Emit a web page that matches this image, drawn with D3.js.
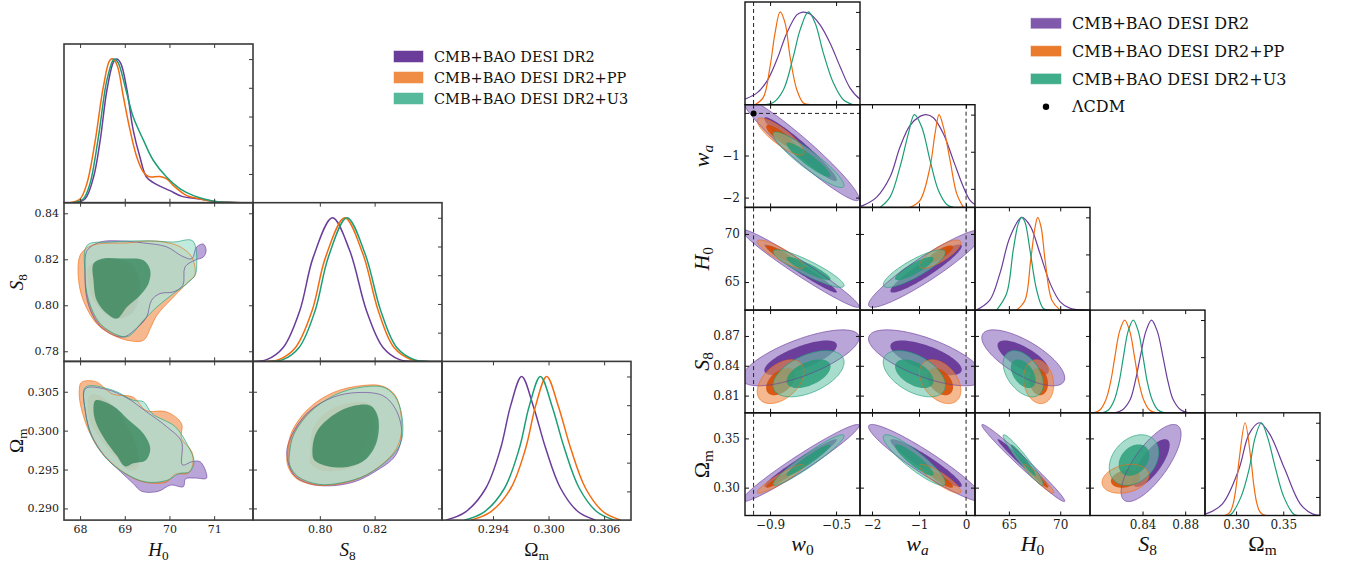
<!DOCTYPE html>
<html>
<head>
<meta charset="utf-8">
<script src="https://cdn.jsdelivr.net/npm/d3@7"></script>
<style>
  body { margin: 0; background: #fff; }
  svg { display: block; }
</style>
</head>
<body>
<svg id="plane" width="1346" height="563"></svg>
<script>
(function() {

  // Dataset names.
  var names = ["CMB+BAO DESI DR2", "CMB+BAO DESI DR2+PP", "CMB+BAO DESI DR2+U3"];

  // ---------- Left triangle (H0, S8, Om) ----------

  // Axis ranges and ticks.
  var leftRanges = [[67.64, 71.87], [0.7756, 0.8446], [0.2885, 0.3089]];
  var leftXTicks = [[68, 69, 70, 71], [0.80, 0.82], [0.294, 0.300, 0.306]];
  var leftYTicks = [null, [0.78, 0.80, 0.82, 0.84], [0.290, 0.295, 0.300, 0.305]];
  var leftFormats = [".0f", ".2f", ".3f"];

  // 1D marginals, [value, normalised density], order DR2, PP, U3.
  var leftH0Curves = [
    [[67.89,0],[68.11,0.026],[68.30,0.177],[68.45,0.434],[68.60,0.783],[68.75,0.981],[68.82,1.0],[68.91,0.97],[69.05,0.783],[69.19,0.503],[69.34,0.317],[69.49,0.177],[69.72,0.126],[70.01,0.084],[70.28,0.044],[70.69,0.026],[70.98,0.009],[71.43,0.002],[71.88,0]],
    [[67.78,0],[68.0,0.026],[68.15,0.131],[68.34,0.434],[68.52,0.806],[68.67,0.993],[68.75,1.0],[68.84,0.946],[68.97,0.736],[69.12,0.503],[69.27,0.317],[69.42,0.212],[69.53,0.182],[69.79,0.182],[69.94,0.166],[70.09,0.119],[70.39,0.049],[70.69,0.026],[71.06,0.007],[71.88,0]],
    [[67.85,0],[68.07,0.026],[68.22,0.131],[68.41,0.457],[68.60,0.853],[68.75,0.998],[68.78,1.0],[68.86,0.97],[69.01,0.806],[69.19,0.596],[69.42,0.434],[69.64,0.294],[69.94,0.177],[70.24,0.096],[70.54,0.049],[70.84,0.021],[71.13,0.005],[71.88,0]]
  ];
  var leftS8Curves = [
    [[0.7760,0],[0.7806,0.012],[0.7867,0.099],[0.7927,0.355],[0.7976,0.726],[0.8046,1],[0.8109,0.772],[0.8170,0.355],[0.8230,0.099],[0.8291,0.012],[0.8340,0]],
    [[0.7800,0],[0.7850,0.012],[0.7912,0.099],[0.7972,0.355],[0.8021,0.726],[0.8091,1],[0.8157,0.75],[0.8213,0.355],[0.8270,0.099],[0.8335,0.012],[0.8390,0]],
    [[0.7815,0],[0.7865,0.012],[0.7925,0.099],[0.7983,0.355],[0.8031,0.726],[0.8099,1],[0.8165,0.75],[0.8222,0.355],[0.8280,0.099],[0.8345,0.012],[0.8400,0]]
  ];
  var leftOmCurves = [
    [[0.2889,0],[0.29105,0.058],[0.29321,0.22],[0.29483,0.5],[0.29591,0.797],[0.2971,1],[0.29834,0.797],[0.29969,0.5],[0.30131,0.22],[0.3032,0.058],[0.30508,0]],
    [[0.2916,0],[0.29375,0.058],[0.29591,0.22],[0.29753,0.5],[0.29861,0.797],[0.2998,1],[0.30104,0.797],[0.30239,0.5],[0.30401,0.22],[0.3059,0.058],[0.30778,0]],
    [[0.29092,0],[0.29307,0.058],[0.29523,0.22],[0.29685,0.5],[0.29793,0.797],[0.29912,1],[0.30036,0.797],[0.30171,0.5],[0.30333,0.22],[0.30522,0.058],[0.3071,0]]
  ];

  // 2D contours (95% outer, 68% inner), [x, y] in data units.
  var leftH0S8Outer = [
    [[68.16,0.8239],[68.45,0.8275],[68.90,0.8280],[69.42,0.8271],[69.94,0.8254],[70.28,0.8214],[70.50,0.8203],[70.61,0.8254],[70.76,0.8266],[70.82,0.8239],[70.76,0.8210],[70.57,0.8196],[70.35,0.8167],[70.30,0.8087],[70.09,0.8058],[69.79,0.8051],[69.60,0.8022],[69.49,0.7949],[69.26,0.7899],[68.97,0.7862],[68.67,0.7877],[68.37,0.7927],[68.16,0.8022],[68.11,0.8152]],
    [[68.0,0.8217],[68.19,0.8254],[68.45,0.8268],[69.05,0.8271],[69.57,0.8280],[69.98,0.8271],[70.24,0.8254],[70.50,0.8210],[70.57,0.8130],[70.46,0.8109],[70.09,0.8036],[69.72,0.7957],[69.57,0.7899],[69.42,0.7848],[69.05,0.7848],[68.67,0.7877],[68.37,0.7920],[68.07,0.8022],[67.96,0.8123]],
    [[68.16,0.8261],[68.67,0.8275],[69.57,0.8280],[70.09,0.8275],[70.52,0.8280],[70.61,0.8167],[70.57,0.8130],[70.39,0.8094],[70.09,0.8051],[69.72,0.7993],[69.42,0.7935],[69.08,0.7865],[68.86,0.7869],[68.45,0.7920],[68.19,0.8022],[68.11,0.8138]]
  ];
  var leftH0S8Inner = [
    [[68.31,0.8174],[68.75,0.8203],[69.19,0.8174],[69.34,0.8109],[69.31,0.8022],[69.16,0.7964],[68.86,0.7942],[68.60,0.7978],[68.34,0.8051],[68.30,0.8123]],
    [[68.19,0.8167],[68.45,0.8196],[68.82,0.8196],[69.16,0.8167],[69.31,0.8094],[69.19,0.7993],[68.90,0.7942],[68.60,0.7957],[68.30,0.8022],[68.19,0.8094]],
    [[68.30,0.8181],[68.52,0.8203],[68.90,0.8203],[69.42,0.8196],[69.57,0.8152],[69.53,0.8094],[69.34,0.8043],[69.05,0.7993],[68.82,0.7942],[68.60,0.7964],[68.37,0.8022],[68.30,0.8109]]
  ];
  var leftH0OmOuter = [
    [[68.12,0.3054],[68.59,0.3053],[69.05,0.3042],[69.47,0.3025],[69.94,0.3005],[70.27,0.2986],[70.29,0.2956],[70.50,0.2960],[70.69,0.2960],[70.83,0.2939],[70.59,0.2939],[70.36,0.2938],[70.31,0.2928],[70.03,0.2930],[69.75,0.2922],[69.38,0.2922],[69.19,0.2932],[68.91,0.2947],[68.54,0.2968],[68.26,0.2994],[68.12,0.3024]],
    [[68.03,0.3062],[68.35,0.3063],[68.73,0.3047],[69.19,0.3043],[69.47,0.3026],[69.94,0.3024],[70.27,0.3009],[70.27,0.2990],[70.50,0.2973],[70.52,0.2956],[70.41,0.2945],[70.13,0.2944],[69.94,0.2934],[69.42,0.2934],[69.01,0.2945],[68.54,0.2968],[68.21,0.2998],[68.03,0.3028],[67.98,0.3049]],
    [[68.12,0.3056],[68.73,0.3052],[69.19,0.3039],[69.42,0.3037],[69.61,0.3022],[70.13,0.3005],[70.41,0.2981],[70.55,0.2960],[70.45,0.2947],[70.22,0.2945],[69.94,0.2936],[69.47,0.2934],[69.01,0.2945],[68.59,0.2964],[68.26,0.2992],[68.12,0.3024]]
  ];
  var leftH0OmInner = [
    [[68.33,0.3039],[68.63,0.3037],[68.91,0.3020],[69.10,0.2998],[69.28,0.2977],[69.28,0.2960],[69.05,0.2951],[68.91,0.2960],[68.73,0.2977],[68.45,0.2998],[68.30,0.3020]],
    [[68.21,0.3045],[68.45,0.3045],[69.01,0.3011],[69.28,0.2977],[69.28,0.2951],[69.10,0.2949],[68.82,0.2964],[68.45,0.2990],[68.21,0.3015]],
    [[68.35,0.3039],[68.73,0.3032],[69.10,0.3013],[69.42,0.2996],[69.57,0.2977],[69.47,0.2962],[69.19,0.2958],[69.01,0.2954],[68.82,0.2968],[68.54,0.2990],[68.35,0.3011],[68.30,0.3028]]
  ];
  var leftS8OmOuter = [
    [[0.7879,0.2970],[0.7897,0.2994],[0.7958,0.3024],[0.8049,0.3043],[0.8139,0.3049],[0.8230,0.3045],[0.8276,0.3028],[0.8299,0.2998],[0.8276,0.2968],[0.8200,0.2947],[0.8124,0.2934],[0.8033,0.2929],[0.7958,0.2932],[0.7905,0.2943]],
    [[0.7882,0.2973],[0.7897,0.2998],[0.7958,0.3028],[0.8049,0.3049],[0.8155,0.3058],[0.8230,0.3057],[0.8276,0.3045],[0.8299,0.3011],[0.8291,0.2986],[0.8261,0.2968],[0.8170,0.2943],[0.8079,0.2932],[0.7988,0.2930],[0.7912,0.2939],[0.7882,0.2956]],
    [[0.7890,0.2973],[0.7905,0.2995],[0.7965,0.3024],[0.8056,0.3046],[0.8155,0.3056],[0.8238,0.3055],[0.8283,0.3039],[0.8303,0.3007],[0.8294,0.2983],[0.8253,0.2964],[0.8170,0.2943],[0.8079,0.2933],[0.7996,0.2931],[0.7920,0.2941],[0.7890,0.2956]]
  ];
  var leftS8OmInner = [
    [[0.7973,0.2968],[0.7980,0.2994],[0.8033,0.3015],[0.8094,0.3028],[0.8155,0.3032],[0.8185,0.3022],[0.8177,0.2990],[0.8139,0.2968],[0.8079,0.2956],[0.8010,0.2956]],
    [[0.7965,0.2968],[0.7976,0.3003],[0.8033,0.3026],[0.8117,0.3036],[0.8185,0.3034],[0.8208,0.3018],[0.8200,0.2986],[0.8155,0.2960],[0.8079,0.2949],[0.8003,0.2949],[0.7965,0.2958]],
    [[0.7973,0.2973],[0.7988,0.2998],[0.8049,0.3020],[0.8124,0.3032],[0.8185,0.3032],[0.8212,0.3018],[0.8208,0.2986],[0.8170,0.2964],[0.8109,0.2954],[0.8033,0.2954],[0.7980,0.2962]]
  ];

  // ---------- Right triangle (w0, wa, H0, S8, Om) ----------

  var rightXRanges = [[-1.052, -0.355], [-2.255, 0.19], [61.7, 72.9], [0.7907, 0.8986], [0.267, 0.389]];
  var rightYRanges = [null, [-2.233, 0.207], [62.08, 72.76], [0.7927, 0.896], [0.2717, 0.376]];
  var rightXTicks = [[-0.9, -0.5], [-2, -1, 0], [65, 70], [0.84, 0.88], [0.30, 0.35]];
  var rightYTicks = [null, [-2, -1], [65, 70], [0.81, 0.84, 0.87], [0.30, 0.35]];
  var rightFormats = [".1f", ".0f", ".0f", ".2f", ".2f"];

  // LCDM reference values for w0 and wa.
  var lcdm = [-1, 0];

  // Posterior summaries: means and standard deviations (w0, wa, H0, S8, Om).
  var meansDR2 = [-0.715, -0.85, 66.4, 0.848, 0.325];
  var meansPP  = [-0.836, -0.55, 67.9, 0.824, 0.309];
  var meansU3  = [-0.667, -1.10, 66.4, 0.832, 0.328];
  var sigmasDR2 = [0.145, 0.50, 1.65, 0.0115, 0.016];
  var sigmasPP  = [0.058, 0.18, 0.60, 0.0090, 0.006];
  var sigmasU3  = [0.088, 0.27, 0.80, 0.0095, 0.0105];

  // Correlation matrices.
  var corrDR2 = [
    [1, -0.96, -0.975, 0.72, 0.97],
    [-0.96, 1, 0.93, -0.68, -0.94],
    [-0.975, 0.93, 1, -0.72, -0.985],
    [0.72, -0.68, -0.72, 1, 0.75],
    [0.97, -0.94, -0.985, 0.75, 1]
  ];
  var corrPP = [
    [1, -0.85, -0.88, 0.45, 0.93],
    [-0.85, 1, 0.80, -0.40, -0.88],
    [-0.88, 0.80, 1, -0.15, -0.95],
    [0.45, -0.40, -0.15, 1, 0.25],
    [0.93, -0.88, -0.95, 0.25, 1]
  ];
  var corrU3 = [
    [1, -0.92, -0.90, 0.50, 0.95],
    [-0.92, 1, 0.85, -0.50, -0.90],
    [-0.90, 0.85, 1, -0.45, -0.96],
    [0.50, -0.50, -0.45, 1, 0.30],
    [0.95, -0.90, -0.96, 0.30, 1]
  ];

  // 1D marginals read from the right triangle.
  var rightW0Curves = [
    [[-1.10,0.03],[-1.052,0.061],[-0.981,0.125],[-0.920,0.251],[-0.859,0.484],[-0.799,0.771],[-0.738,0.968],[-0.708,0.996],[-0.658,0.978],[-0.597,0.86],[-0.536,0.663],[-0.476,0.412],[-0.415,0.179],[-0.355,0.061],[-0.30,0.02]],
    [[-0.991,0],[-0.941,0.079],[-0.900,0.412],[-0.870,0.771],[-0.839,1.0],[-0.809,0.88],[-0.779,0.52],[-0.738,0.161],[-0.698,0.018],[-0.658,0]],
    [[-0.961,0],[-0.880,0.024],[-0.819,0.161],[-0.759,0.52],[-0.718,0.807],[-0.668,1.0],[-0.627,0.88],[-0.577,0.556],[-0.516,0.233],[-0.456,0.054],[-0.395,0]]
  ];
  var rightWaCurves = [
    [[-2.30,0.005],[-2.185,0.022],[-1.90,0.111],[-1.617,0.327],[-1.404,0.651],[-1.191,0.884],[-0.979,0.981],[-0.851,1.0],[-0.695,0.967],[-0.482,0.795],[-0.27,0.507],[-0.057,0.22],[0.085,0.076],[0.19,0.032],[0.30,0.01]],
    [[-1.191,0],[-0.979,0.076],[-0.766,0.436],[-0.66,0.795],[-0.574,1.0],[-0.482,0.867],[-0.34,0.507],[-0.199,0.148],[-0.057,0]],
    [[-1.83,0],[-1.617,0.111],[-1.404,0.436],[-1.227,0.795],[-1.099,1.0],[-0.943,0.867],[-0.766,0.507],[-0.589,0.184],[-0.411,0.032],[-0.27,0]]
  ];
  var rightH0Curves = [
    [[61.83,0],[63.14,0.107],[64.12,0.393],[65.10,0.786],[66.25,1.0],[67.06,0.911],[68.04,0.607],[69.02,0.286],[70.0,0.089],[70.98,0.018],[72.6,0]],
    [[65.75,0],[66.57,0.107],[67.12,0.536],[67.55,0.893],[67.81,1.0],[68.14,0.893],[68.53,0.536],[69.19,0.107],[70.0,0]],
    [[63.8,0],[64.78,0.179],[65.42,0.643],[65.91,0.929],[66.25,1.0],[66.57,0.946],[67.06,0.643],[67.71,0.214],[68.36,0.018],[69.02,0]]
  ];
  var rightS8Curves = [
    [[0.814,0],[0.821,0.03],[0.8283,0.14],[0.833,0.33],[0.8378,0.6],[0.8432,0.88],[0.8484,1],[0.8538,0.88],[0.8592,0.6],[0.864,0.33],[0.8688,0.14],[0.876,0.03],[0.884,0]],
    [[0.794,0],[0.800,0.03],[0.8056,0.14],[0.810,0.33],[0.814,0.6],[0.8185,0.88],[0.8233,1],[0.828,0.88],[0.8325,0.6],[0.8365,0.33],[0.841,0.14],[0.8465,0.03],[0.853,0]],
    [[0.802,0],[0.808,0.03],[0.8136,0.14],[0.818,0.33],[0.822,0.6],[0.8265,0.88],[0.8313,1],[0.836,0.88],[0.8405,0.6],[0.8445,0.33],[0.849,0.14],[0.8545,0.03],[0.861,0]]
  ];
  var rightOmCurves = [
    [[0.255,0],[0.268,0.017],[0.2855,0.126],[0.303,0.5],[0.3138,0.88],[0.3247,1],[0.3355,0.88],[0.3516,0.5],[0.368,0.126],[0.381,0.017],[0.394,0]],
    [[0.287,0],[0.2905,0.01],[0.294,0.044],[0.2971,0.135],[0.3002,0.325],[0.3033,0.607],[0.3095,1],[0.3157,0.607],[0.3188,0.325],[0.3219,0.135],[0.325,0.044],[0.3285,0.01],[0.332,0]],
    [[0.290,0],[0.2943,0.01],[0.3051,0.198],[0.3138,0.5],[0.3203,0.845],[0.3268,1],[0.3333,0.845],[0.342,0.5],[0.3507,0.198],[0.3616,0.01],[0.366,0]]
  ];

  // ---------- Styles ----------
  var lineColours = ["#6a3d9a", "#f26b0f", "#1b9e77"];
  var rightStyle = {
    outerFill: ["#8a69be", "#f08a44", "#6ec5aa"], outerAlpha: [0.6, 0.6, 0.6],
    innerFill: ["#5c2b8f", "#d54900", "#239b75"], innerAlpha: [0.85, 0.85, 0.8]
  };
  var leftStyle = {
    outerFill: ["#8a69be", "#f08a44", "#b1e5d6"], outerAlpha: [0.6, 0.6, 0.8],
    innerFill: ["#5c2b8f", "#d54900", "#0a6e3c"], innerAlpha: [0.85, 0.5, 0.6]
  };
  var leftLegendColours = ["#6b3d9a", "#ef8c46", "#56b99b"];
  var rightLegendColours = ["#8159ac", "#ea7a2c", "#40ad8b"];
  var tickFont = "DejaVu Serif";
  var labelFont = "Liberation Serif";

  var svg = d3.select("#plane");

  // Outline and fill of the contours of one 2D panel.
  function drawContours(cell, outers, inners, x, y, curve, st) {
    var line = d3.line().x(function(d) { return x(d[0]); }).y(function(d) { return y(d[1]); }).curve(curve);
    for (var k = 0; k < outers.length; k++) {
      cell.append("path").attr("d", line(outers[k]))
        .attr("fill", st.outerFill[k]).attr("fill-opacity", st.outerAlpha[k]);
      cell.append("path").attr("d", line(inners[k]))
        .attr("fill", st.innerFill[k]).attr("fill-opacity", st.innerAlpha[k]);
    }
    cell.selectAll(".edge")
      .data(outers)
      .enter()
      .append("path")
      .attr("class", "edge")
      .attr("d", function(d) { return line(d); })
      .attr("fill", "none")
      .attr("stroke", function(d, k) { return lineColours[k]; })
      .attr("stroke-opacity", 0.7)
      .attr("stroke-width", 0.9);
  }

  // 1D marginal lines.
  function drawCurves(cell, curves, x, y, width) {
    var line = d3.line().x(function(d) { return x(d[0]); }).y(function(d) { return y(d[1]); })
      .curve(d3.curveCatmullRom.alpha(0.5));
    cell.selectAll(".marg")
      .data(curves)
      .enter()
      .append("path")
      .attr("class", "marg")
      .attr("d", function(d) { return line(d); })
      .attr("fill", "none")
      .attr("stroke", function(d, k) { return lineColours[k]; })
      .attr("stroke-width", width);
  }

  // Inward ticks on one side of a panel.
  function addAxis(g, axis, tx, ty, fmt, o) {
    var a = g.append("g")
      .attr("transform", "translate(" + tx + "," + ty + ")")
      .call(axis.tickSize(-o.tickLen).tickPadding(o.tickPad)
        .tickFormat(fmt ? d3.format(fmt) : function() { return ""; }));
    a.select(".domain").remove();
    a.attr("font-family", tickFont).attr("font-size", o.tickSize);
    a.selectAll("line").attr("stroke", o.frameColour).attr("stroke-width", 1);
    a.selectAll("text").attr("fill", "#1a1a1a");
  }

  // Axis label with subscript.
  function mathLabel(x, y, base, sub, size, rotate, italicSub) {
    var t = svg.append("text")
      .attr("transform", "translate(" + x + "," + y + ")" + (rotate ? " rotate(-90)" : ""))
      .attr("text-anchor", "middle")
      .attr("font-family", labelFont)
      .attr("font-size", size)
      .attr("fill", "#111");
    t.append("tspan").attr("font-style", base === "Ω" ? "normal" : "italic").text(base);
    t.append("tspan").attr("font-size", size * 0.7).attr("dy", size * 0.2)
      .attr("font-style", italicSub ? "italic" : "normal").text(sub);
  }

  // Draw a whole triangle plot.
  function drawTriangle(o) {
    var n = o.xRanges.length;
    var xs = o.xRanges.map(function(r, j) {
      return d3.scaleLinear().domain(r).range([o.x0 + j * o.cw, o.x0 + (j + 1) * o.cw]);
    });
    var ys = o.yRanges.map(function(r, i) {
      return r ? d3.scaleLinear().domain(r).range([o.y0 + (i + 1) * o.ch, o.y0 + i * o.ch]) : null;
    });
    var g = svg.append("g");
    for (var i = 0; i < n; i++) {
      for (var j = 0; j <= i; j++) {
        var left = o.x0 + j * o.cw, top = o.y0 + i * o.ch;
        var id = o.name + "-" + i + "-" + j;
        g.append("clipPath").attr("id", id).append("rect")
          .attr("x", left).attr("y", top).attr("width", o.cw).attr("height", o.ch);
        var cell = g.append("g").attr("clip-path", "url(#" + id + ")");
        var x = xs[j];
        var y = (i === j)
          ? d3.scaleLinear().domain([0, o.densityTop]).range([top + o.ch, top])
          : ys[i];
        if (i === j) {
          drawCurves(cell, o.curves[i], x, y, o.lineWidth);
        } else {
          o.draw2D(cell, i, j, x, y);
        }
        if (o.refLines) o.refLines(cell, i, j, x, y, top, left);

        // Ticks on all four sides.
        addAxis(g, d3.axisBottom(x).tickValues(o.xTicks[j]), 0, top + o.ch, i === n - 1 ? o.formats[j] : null, o);
        addAxis(g, d3.axisTop(x).tickValues(o.xTicks[j]), 0, top, null, o);
        if (i === j) {
          addAxis(g, d3.axisRight(y).tickValues(o.densityTicks), left + o.cw, 0, null, o);
        } else {
          addAxis(g, d3.axisLeft(y).tickValues(o.yTicks[i]), left, 0, j === 0 ? o.formats[i] : null, o);
          addAxis(g, d3.axisRight(y).tickValues(o.yTicks[i]), left + o.cw, 0, null, o);
        }

        // Frame.
        g.append("rect")
          .attr("x", left).attr("y", top).attr("width", o.cw).attr("height", o.ch)
          .attr("fill", "none").attr("stroke", o.frameColour).attr("stroke-width", o.frameWidth);
      }
    }
  }

  // ---------- Left triangle ----------
  var leftCurves = [leftH0Curves, leftS8Curves, leftOmCurves];
  var leftContours = {
    "1-0": [leftH0S8Outer, leftH0S8Inner],
    "2-0": [leftH0OmOuter, leftH0OmInner],
    "2-1": [leftS8OmOuter, leftS8OmInner]
  };

  drawTriangle({
    name: "L", x0: 64, y0: 44, cw: 189, ch: 158.7,
    xRanges: leftRanges, yRanges: [null, leftRanges[1], leftRanges[2]],
    xTicks: leftXTicks, yTicks: leftYTicks, formats: leftFormats,
    curves: leftCurves, densityTop: 1.105, densityTicks: [0.2, 0.4, 0.6, 0.8, 1.0],
    tickLen: 4, tickPad: 5, tickSize: 11, frameColour: "#3a3a3a", frameWidth: 1.6, lineWidth: 1.5,
    draw2D: function(cell, i, j, x, y) {
      var c = leftContours[i + "-" + j];
      drawContours(cell, c[0], c[1], x, y, d3.curveCatmullRomClosed.alpha(0.5), leftStyle);
    }
  });

  // ---------- Right triangle ----------
  var rightCurves = [rightW0Curves, rightWaCurves, rightH0Curves, rightS8Curves, rightOmCurves];
  var means = [meansDR2, meansPP, meansU3];
  var sigmas = [sigmasDR2, sigmasPP, sigmasU3];
  var corrs = [corrDR2, corrPP, corrU3];

  // Contour of a 2D Gaussian at k standard deviations.
  function ellipse(mx, my, sx, sy, rho, k) {
    var pts = [];
    for (var a = 0; a < 360; a += 3) {
      var t = a * Math.PI / 180;
      pts.push([mx + k * sx * Math.cos(t),
                my + k * sy * (rho * Math.cos(t) + Math.sqrt(1 - rho * rho) * Math.sin(t))]);
    }
    return pts;
  }

  drawTriangle({
    name: "R", x0: 745, y0: 2, cw: 115, ch: 102.7,
    xRanges: rightXRanges, yRanges: rightYRanges,
    xTicks: rightXTicks, yTicks: rightYTicks, formats: rightFormats,
    curves: rightCurves, densityTop: 1.107, densityTicks: [0.2, 0.6, 1.0],
    tickLen: 4, tickPad: 5, tickSize: 12, frameColour: "#111", frameWidth: 1.4, lineWidth: 1.2,
    draw2D: function(cell, i, j, x, y) {
      var outers = [], inners = [];
      for (var k = 0; k < 3; k++) {
        var m = means[k], s = sigmas[k], r = corrs[k][i][j];
        outers.push(ellipse(m[j], m[i], s[j], s[i], r, Math.sqrt(5.99)));
        inners.push(ellipse(m[j], m[i], s[j], s[i], r, Math.sqrt(2.30)));
      }
      drawContours(cell, outers, inners, x, y, d3.curveLinearClosed, rightStyle);
    },
    refLines: function(cell, i, j, x, y, top, left) {
      // Vertical LCDM lines in the w0 and wa columns.
      if (j < 2) {
        cell.append("line")
          .attr("x1", x(lcdm[j])).attr("x2", x(lcdm[j]))
          .attr("y1", top).attr("y2", top + 102.7)
          .attr("stroke", "#222").attr("stroke-width", 1).attr("stroke-dasharray", "4,3");
      }
      // Horizontal wa = 0 line and the LCDM point in the w0-wa panel.
      if (i === 1 && j === 0) {
        cell.append("line")
          .attr("x1", left).attr("x2", left + 115)
          .attr("y1", y(lcdm[1])).attr("y2", y(lcdm[1]))
          .attr("stroke", "#222").attr("stroke-width", 1).attr("stroke-dasharray", "4,3");
        cell.append("circle")
          .attr("cx", x(lcdm[0])).attr("cy", y(lcdm[1])).attr("r", 3)
          .attr("fill", "#000");
      }
    }
  });

  // ---------- Axis labels ----------
  var leftLabels = [["H", "0", false], ["S", "8", false], ["Ω", "m", false]];
  var rightLabels = [["w", "0", false], ["w", "a", true], ["H", "0", false], ["S", "8", false], ["Ω", "m", false]];

  leftLabels.forEach(function(l, j) {
    mathLabel(64 + (j + 0.5) * 189, 556, l[0], l[1], 19, false, l[2]);
    if (j > 0) mathLabel(23, 44 + (j + 0.5) * 158.7, l[0], l[1], 19, true, l[2]);
  });
  rightLabels.forEach(function(l, j) {
    mathLabel(745 + (j + 0.5) * 115, 551, l[0], l[1], 22, false, l[2]);
    if (j > 0) mathLabel(709, 2 + (j + 0.5) * 102.7, l[0], l[1], 22, true, l[2]);
  });

  // ---------- Legends ----------
  function legend(x, y, step, colours, labels, size, sw, sh) {
    var gs = svg.selectAll(null)
      .data(labels)
      .enter()
      .append("g")
      .attr("transform", function(d, k) { return "translate(" + x + "," + (y + k * step) + ")"; });
    gs.append("rect")
      .attr("x", 0).attr("y", -sh / 2).attr("width", sw).attr("height", sh)
      .attr("fill", function(d, k) { return colours[k]; })
      .attr("stroke", function(d, k) { return colours[k]; }).attr("stroke-opacity", 0.5);
    gs.append("text")
      .attr("x", sw + 11).attr("dy", "0.35em")
      .attr("font-family", tickFont).attr("font-size", size).attr("fill", "#111")
      .text(function(d) { return d; });
  }

  legend(394, 56.5, 21, leftLegendColours, names, 14.5, 29, 11);
  legend(1031, 23.3, 27.8, rightLegendColours, names, 16, 30, 10);

  // LCDM entry.
  svg.append("circle").attr("cx", 1046).attr("cy", 106.7).attr("r", 3.2).attr("fill", "#000");
  svg.append("text").attr("x", 1072).attr("y", 106.7).attr("dy", "0.35em")
    .attr("font-family", tickFont).attr("font-size", 16).attr("fill", "#111").text("ΛCDM");

})(this);
</script>
</body>
</html>
